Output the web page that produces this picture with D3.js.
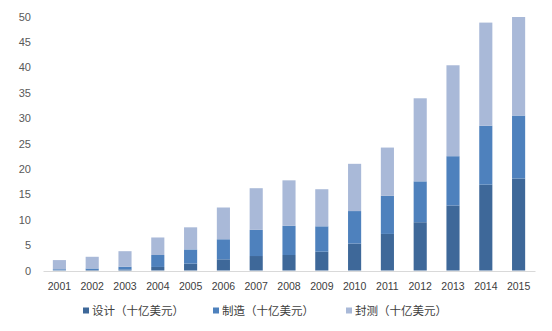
<!DOCTYPE html>
<html>
<head>
<meta charset="utf-8">
<script src="https://cdn.jsdelivr.net/npm/d3@7"></script>
<style>
  body { margin: 0; background: #fff; }
  svg { display: block; }
</style>
</head>
<body>
<div id="chart"></div>
<script>
const years = ['2001', '2002', '2003', '2004', '2005', '2006', '2007', '2008',
  '2009', '2010', '2011', '2012', '2013', '2014', '2015']
const design = [0.05, 0.1, 0.2, 0.7, 1.35, 2.2, 2.85, 3.05, 3.7, 5.3, 7.2, 9.5, 12.8, 16.9, 18.1]
const manufacture = [0.2, 0.3, 0.55, 2.35, 2.8, 3.95, 5.15, 5.75, 5.0, 6.4, 7.5, 8.05, 9.7, 11.6, 12.4]
const packaging = [1.8, 2.3, 3.05, 3.45, 4.35, 6.25, 8.2, 8.95, 7.3, 9.3, 9.5, 16.35, 17.9, 20.3, 19.4]
const seriesNames = ['设计（十亿美元）', '制造（十亿美元）', '封测（十亿美元）']
const yTicks = [0, 5, 10, 15, 20, 25, 30, 35, 40, 45, 50]

const colors = ['#3e6899', '#4e81bd', '#a9b9d8']
const W = 552, H = 331
const margin = { top: 16.5, right: 17, bottom: 60.5, left: 43 }

const svg = d3.select('#chart').append('svg')
  .attr('width', W)
  .attr('height', H)

const rows = years.map((y, i) => ({
  year: y,
  s0: design[i],
  s1: manufacture[i],
  s2: packaging[i]
}))

const stack = d3.stack().keys(['s0', 's1', 's2'])
const layers = stack(rows)

const x = d3.scaleBand()
  .domain(years)
  .range([margin.left, W - margin.right])
  .paddingInner(0.6)
  .paddingOuter(0.3)

const y = d3.scaleLinear()
  .domain([0, 50])
  .range([H - margin.bottom, margin.top])

// y labels, no axis line
const yAxis = svg.append('g')
  .attr('transform', `translate(${margin.left - 12},0)`)
  .call(d3.axisLeft(y).tickValues(yTicks).tickSize(0).tickPadding(0))
yAxis.select('.domain').remove()
yAxis.selectAll('text')
  .attr('font-family', '"Liberation Sans", Arial, sans-serif')
  .attr('font-size', 11)
  .attr('fill', '#595959')

// bars
svg.append('g')
  .selectAll('g')
  .data(layers)
  .join('g')
  .attr('fill', (d, i) => colors[i])
  .selectAll('rect')
  .data(d => d)
  .join('rect')
  .attr('x', d => x(d.data.year))
  .attr('y', d => y(d[1]))
  .attr('width', x.bandwidth())
  .attr('height', d => y(d[0]) - y(d[1]))

// x axis
const xAxis = svg.append('g')
  .attr('transform', `translate(0,${H - margin.bottom + 0.5})`)
  .call(d3.axisBottom(x).tickSize(0).tickPadding(12))
xAxis.select('.domain')
  .attr('stroke', '#d9d9d9')
  .attr('stroke-width', 1.2)
xAxis.selectAll('text')
  .attr('font-family', '"Liberation Sans", Arial, sans-serif')
  .attr('font-size', 10.5)
  .attr('fill', '#404040')

// legend
const legendX = [83, 213, 346]
const legend = svg.append('g')
  .selectAll('g')
  .data(seriesNames)
  .join('g')
  .attr('transform', (d, i) => `translate(${legendX[i]},311)`)
legend.append('rect')
  .attr('x', 0)
  .attr('y', -3.5)
  .attr('width', 6)
  .attr('height', 6)
  .attr('fill', (d, i) => colors[i])
legend.append('text')
  .attr('x', 9)
  .attr('y', 0)
  .attr('dy', '0.35em')
  .attr('font-family', '"Noto Sans CJK SC", sans-serif')
  .attr('font-size', 11.5)
  .attr('fill', '#404040')
  .text(d => d)
</script>
</body>
</html>
